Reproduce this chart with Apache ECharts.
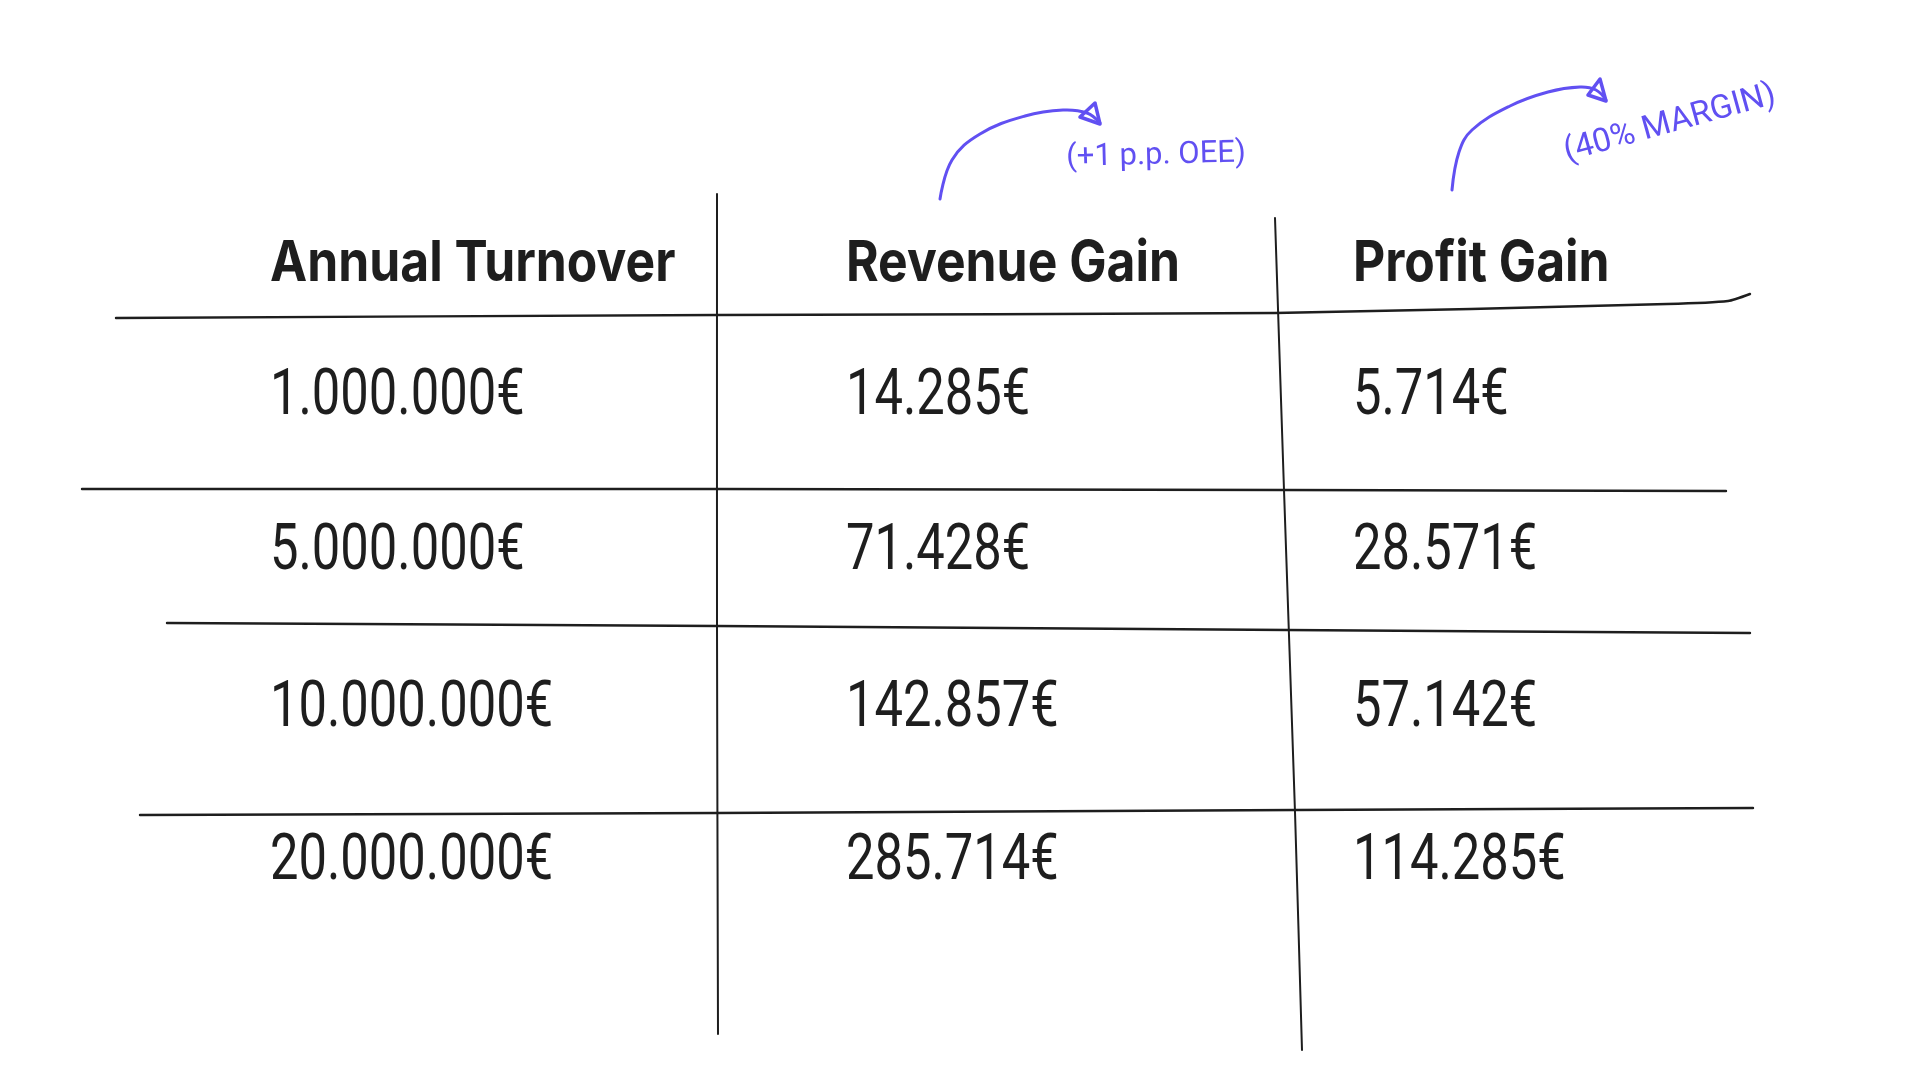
<!DOCTYPE html>
<html>
<head>
<meta charset="utf-8">
<script src="https://cdn.jsdelivr.net/npm/echarts/dist/echarts.min.js"></script>
<style>
html,body{margin:0;padding:0;background:#ffffff;}
#chart{width:1920px;height:1080px;}
</style>
</head>
<body>
<div id="chart"></div>
<script>
// ---- content ----
const headers = ['Annual Turnover', 'Revenue Gain', 'Profit Gain'];
const turnover = ['1.000.000€', '5.000.000€', '10.000.000€', '20.000.000€'];
const revenueGain = ['14.285€', '71.428€', '142.857€', '285.714€'];
const profitGain = ['5.714€', '28.571€', '57.142€', '114.285€'];
const notes = ['(+1 p.p. OEE)', '(40% MARGIN)'];

// ---- layout (axis units of a 1920 x 1080 sheet) ----
const colLeft = [270, 846, 1353];
const headerMid = 264;
const rowMid = [398, 553, 710, 863];
const hRules = [
  [[116, 318], [717, 315], [1275, 313], [1667, 304], [1728, 301], [1750, 294]],
  [[82, 489], [717, 489], [1284, 490], [1726, 491]],
  [[167, 623], [717, 626], [1287, 630], [1750, 633]],
  [[140, 815], [717, 813], [1295, 810], [1753, 808]]
];
const vRules = [
  [[717, 194], [717, 626], [718, 1034]],
  [[1275, 218], [1284, 490], [1295, 812], [1302, 1050]]
];
const noteAnchor = [[1156, 156, 1.5], [1670, 124, 15.5]];
const arrowPaths = [
  [[940, 199], [952, 160], [980, 134], [1025, 116], [1063, 110], [1087, 113], [1100, 123]],
  [[1452, 190], [1459, 152], [1472, 130], [1510, 106], [1548, 92], [1580, 87], [1596, 90], [1606, 100]]
];
const arrowHeads = [
  [[1095, 103], [1100, 124], [1080, 117]],
  [[1600, 79], [1606, 101], [1588, 95]]
];

const INK = '#1e1e1e';
const VIOLET = '#6150f2';
const columns = [turnover, revenueGain, profitGain];

const cellData = [];
columns.forEach((col, c) => col.forEach((txt, r) => cellData.push([colLeft[c], rowMid[r], c, r])));
const headerData = headers.map((h, c) => [colLeft[c], headerMid, c]);

function ruleSeries(list, width, color, smooth) {
  return {
    type: 'custom',
    coordinateSystem: 'cartesian2d',
    clip: false,
    silent: true,
    data: list.map((pts, i) => [pts[0][0], pts[0][1], i]),
    encode: { x: 0, y: 1 },
    renderItem: function (params, api) {
      const pts = list[params.dataIndex].map(p => api.coord(p));
      return {
        type: 'polyline',
        shape: { points: pts, smooth: smooth },
        style: { stroke: color, lineWidth: width, fill: null, lineCap: 'round', lineJoin: 'round' }
      };
    }
  };
}

const chart = echarts.init(document.getElementById('chart'), null, { renderer: 'canvas' });
chart.setOption({
  backgroundColor: '#ffffff',
  animation: false,
  grid: { left: 0, right: 0, top: 0, bottom: 0 },
  xAxis: { type: 'value', min: 0, max: 1920, show: false },
  yAxis: { type: 'value', min: 0, max: 1080, inverse: true, show: false },
  series: [
    ruleSeries(hRules, 2.4, INK, 0.2),
    ruleSeries(vRules, 2, INK, 0.2),
    ruleSeries(arrowPaths, 3, VIOLET, 0.4),
    {
      type: 'custom', coordinateSystem: 'cartesian2d', clip: false, silent: true,
      data: arrowHeads.map((pts, i) => [pts[1][0], pts[1][1], i]),
      encode: { x: 0, y: 1 },
      renderItem: function (params, api) {
        const pts = arrowHeads[params.dataIndex].map(p => api.coord(p));
        return {
          type: 'polygon',
          shape: { points: pts },
          style: { stroke: VIOLET, lineWidth: 3.5, fill: null, lineJoin: 'round' }
        };
      }
    },
    {
      type: 'custom', coordinateSystem: 'cartesian2d', clip: false, silent: true,
      data: headerData,
      encode: { x: 0, y: 1 },
      renderItem: function (params, api) {
        const p = api.coord([api.value(0), api.value(1)]);
        return {
          type: 'text', x: p[0], y: p[1], scaleX: 0.89, scaleY: 1,
          style: {
            text: headers[api.value(2)], x: 0, y: 0,
            fill: INK, align: 'left', verticalAlign: 'middle',
            font: '700 56px Inter, Roboto, "Liberation Sans", sans-serif'
          }
        };
      }
    },
    {
      type: 'custom', coordinateSystem: 'cartesian2d', clip: false, silent: true,
      data: cellData,
      encode: { x: 0, y: 1 },
      renderItem: function (params, api) {
        const p = api.coord([api.value(0), api.value(1)]);
        return {
          type: 'text', x: p[0], y: p[1], scaleX: 0.78, scaleY: 1,
          style: {
            text: columns[api.value(2)][api.value(3)], x: 0, y: 0,
            fill: INK, align: 'left', verticalAlign: 'middle',
            font: '400 65px Roboto, "Open Sans", "DejaVu Sans", sans-serif'
          }
        };
      }
    },
    {
      type: 'custom', coordinateSystem: 'cartesian2d', clip: false, silent: true,
      data: noteAnchor.map((a, i) => [a[0], a[1], i]),
      encode: { x: 0, y: 1 },
      renderItem: function (params, api) {
        const i = api.value(2);
        const p = api.coord([api.value(0), api.value(1)]);
        return {
          type: 'text', x: p[0], y: p[1], rotation: noteAnchor[i][2] * Math.PI / 180,
          style: {
            text: notes[i], x: 0, y: 0,
            fill: VIOLET, align: 'center', verticalAlign: 'middle',
            font: '400 ' + (i === 0 ? 31 : 33) + 'px Roboto, "Open Sans", sans-serif'
          }
        };
      }
    }
  ]
});
</script>
</body>
</html>
